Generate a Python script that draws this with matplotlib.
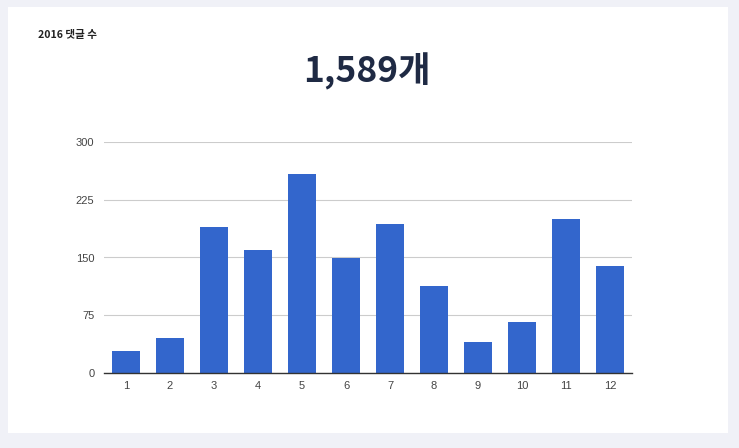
import matplotlib

matplotlib.use("Agg")

import matplotlib.pyplot as plt
from matplotlib.patches import Rectangle

plt.rcParams["font.family"] = ["Noto Sans CJK KR", "DejaVu Sans"]

# ── data ─────────────────────────────────────────────────────────────────────
MONTHS = ["1", "2", "3", "4", "5", "6", "7", "8", "9", "10", "11", "12"]
COMMENTS = [28, 45, 189, 160, 259, 149, 194, 113, 40, 66, 200, 139]
Y_TICKS = [0, 75, 150, 225, 300]
TITLE = "2016 댓글 수"
TOTAL_LABEL = "1,589개"

BAR = "#3366cc"
PAGE_BG = "#f0f1f7"
NAVY = "#1f2a44"
TICK_FONT = "Liberation Sans"

W, H = 739, 448
fig = plt.figure(figsize=(W / 100, H / 100), dpi=100, facecolor=PAGE_BG)

# white card behind everything
card = Rectangle((8 / W, 1 - 433 / H), (728 - 8) / W, (433 - 7) / H,
                 transform=fig.transFigure, facecolor="white", edgecolor="none", zorder=-10)
fig.patches.append(card)

fig.text(38 / W, 1 - 35 / H, TITLE, fontsize=7.6, fontweight="bold",
         color="#222222", ha="left", va="center")
fig.text(367 / W, 1 - 71 / H, TOTAL_LABEL, fontsize=25.5, fontweight="heavy",
         color=NAVY, ha="center", va="center")

# plot area: x 104..632 px, y 142..373 px
ax = fig.add_axes([104 / W, 1 - 373 / H, (632 - 104) / W, (373 - 142) / H])
ax.set_facecolor("none")
x = list(range(1, len(MONTHS) + 1))
ax.bar(x, COMMENTS, width=0.62, color=BAR, zorder=3)

ax.set_xlim(0.5, len(MONTHS) + 0.5)
ax.set_ylim(0, 300)
ax.set_yticks(Y_TICKS)
ax.set_yticklabels([str(v) for v in Y_TICKS], family=TICK_FONT)
ax.set_xticks(x)
ax.set_xticklabels(MONTHS, family=TICK_FONT)
ax.grid(axis="y", color="#cccccc", linewidth=0.8, zorder=0)
ax.set_axisbelow(True)

for side in ("top", "right", "left"):
    ax.spines[side].set_visible(False)
ax.spines["bottom"].set_color("#333333")
ax.spines["bottom"].set_linewidth(1.0)
ax.spines["bottom"].set_zorder(4)
ax.tick_params(axis="both", length=0, labelsize=8, colors="#444444")
ax.tick_params(axis="y", pad=7)
ax.tick_params(axis="x", pad=6)

fig.savefig("out.png", dpi=100, facecolor=PAGE_BG)
